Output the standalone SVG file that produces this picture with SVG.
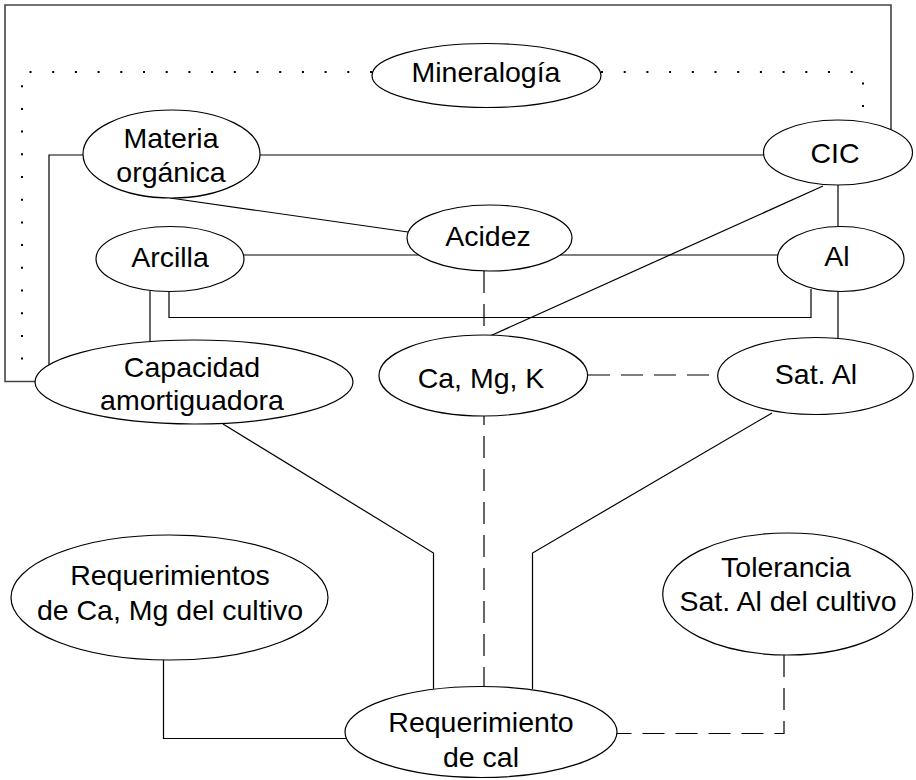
<svg xmlns="http://www.w3.org/2000/svg" width="916" height="780" viewBox="0 0 916 780">
<style>
.n ellipse{fill:#fff;stroke:#000;stroke-width:1.2}
.n text{font-family:"Liberation Sans",Arial,sans-serif;font-size:28.5px;fill:#000;text-anchor:middle}
.c path{fill:none;stroke:#000;stroke-width:1.2}
.c .d{stroke-dasharray:22 11}
.c .dot{stroke-width:2;stroke-dasharray:2 20.7}
.c .frame{stroke:#444;stroke-width:1.6}
</style>
<rect width="916" height="780" fill="#fff"/>
<g id="connectors" class="c">
<path class="frame" d="M35,381.5 H5 V5 H891 V130"/>
<path class="dot" d="M372,72 H22 V376"/>
<path class="dot" d="M601,72 H863 V124"/>
<path d="M260,155 H764"/>
<path d="M83,155 H49 V366"/>
<path d="M170,198 L408,232"/>
<path d="M244,255 H778"/>
<path d="M150,291 V342"/>
<path d="M169,290 V317.5 H811 V289"/>
<path d="M838,185 V227"/>
<path d="M838,291 V338"/>
<path d="M823,186 L490,336"/>
<path class="d" d="M484,271 V686"/>
<path class="d" d="M588,375 H718"/>
<path d="M223,424 L433.5,553 V689"/>
<path d="M772,413 L532.5,553 V689"/>
<path d="M163.5,660 V738.5 H346"/>
<path class="d" d="M784,655 V733.5 H615"/>
</g>
<g id="mineralogia" class="n"><ellipse cx="486.5" cy="75.5" rx="114.5" ry="32"/><text x="486" y="82">Mineralogía</text></g>
<g id="materia-organica" class="n"><ellipse cx="171.5" cy="154" rx="88.5" ry="44"/><text x="171" y="148">Materia</text><text x="171" y="182">orgánica</text></g>
<g id="cic" class="n"><ellipse cx="838" cy="152.5" rx="74.5" ry="32.5"/><text x="835" y="163">CIC</text></g>
<g id="acidez" class="n"><ellipse cx="489.5" cy="238" rx="82.5" ry="33"/><text x="488" y="246">Acidez</text></g>
<g id="arcilla" class="n"><ellipse cx="170" cy="259" rx="74" ry="32.5"/><text x="170" y="267">Arcilla</text></g>
<g id="al" class="n"><ellipse cx="840.7" cy="259" rx="63.3" ry="32.5"/><text x="837" y="266">Al</text></g>
<g id="capacidad" class="n"><ellipse cx="194" cy="382" rx="159" ry="42"/><text x="192" y="377">Capacidad</text><text x="192" y="410">amortiguadora</text></g>
<g id="ca-mg-k" class="n"><ellipse cx="483.3" cy="375.5" rx="104.3" ry="40.5"/><text x="481" y="388">Ca, Mg, K</text></g>
<g id="sat-al" class="n"><ellipse cx="815.5" cy="376" rx="97.8" ry="38.5"/><text x="816" y="384">Sat. Al</text></g>
<g id="requerimientos-ca-mg" class="n"><ellipse cx="169.5" cy="597.5" rx="158.5" ry="62.5"/><text x="170" y="585">Requerimientos</text><text x="170" y="620">de Ca, Mg del cultivo</text></g>
<g id="tolerancia" class="n"><ellipse cx="787.7" cy="594" rx="125" ry="61"/><text x="786" y="577">Tolerancia</text><text x="788" y="611">Sat. Al del cultivo</text></g>
<g id="requerimiento-cal" class="n"><ellipse cx="481" cy="732" rx="136" ry="45.5"/><text x="481" y="732">Requerimiento</text><text x="481" y="767">de cal</text></g>
</svg>
